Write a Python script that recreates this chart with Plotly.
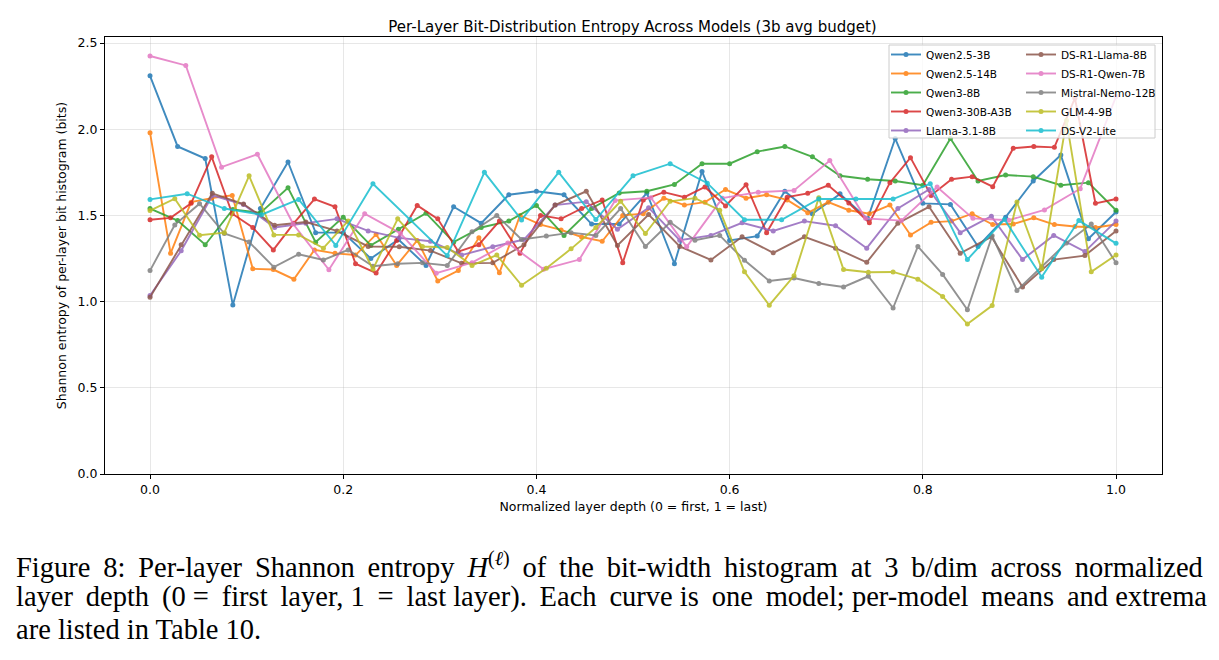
import numpy as np
import plotly.graph_objects as go

# ---------------- data ----------------
models = ["Qwen2.5-3B", "Qwen2.5-14B", "Qwen3-8B", "Qwen3-30B-A3B", "Llama-3.1-8B",
          "DS-R1-Llama-8B", "DS-R1-Qwen-7B", "Mistral-Nemo-12B", "GLM-4-9B", "DS-V2-Lite"]

colors = ["#1f77b4", "#ff7f0e", "#2ca02c", "#d62728", "#9467bd",
          "#8c564b", "#e377c2", "#7f7f7f", "#bcbd22", "#17becf"]

qwen25_3b = [2.31, 1.90, 1.83, 0.98, 1.54, 1.81, 1.40, 1.40, 1.25, 1.36,
             1.21, 1.55, 1.455, 1.62, 1.64, 1.62, 1.45, 1.45, 1.63, 1.22,
             1.755, 1.355, 1.38, 1.64, 1.51, 1.625, 1.48, 1.946, 1.57, 1.564,
             1.32, 1.49, 1.70, 1.85, 1.365, 1.52]

qwen25_14b = [1.98, 1.28, 1.577, 1.60, 1.616, 1.19, 1.186, 1.13, 1.30, 1.28,
              1.27, 1.39, 1.21, 1.355, 1.12, 1.18, 1.37, 1.167, 1.50, 1.447,
              1.416, 1.375, 1.35, 1.50, 1.51, 1.60, 1.56, 1.577, 1.65, 1.60,
              1.62, 1.59, 1.515, 1.577, 1.53, 1.51, 1.56, 1.386, 1.46, 1.467,
              1.51, 1.447, 1.45, 1.486, 1.447, 1.436, 1.43, 1.447]

qwen3_8b = [1.54, 1.47, 1.33, 1.535, 1.515, 1.66, 1.345, 1.49, 1.326, 1.42,
            1.513, 1.345, 1.43, 1.467, 1.558, 1.384, 1.54, 1.63, 1.64, 1.68,
            1.80, 1.80, 1.87, 1.90, 1.84, 1.73, 1.71, 1.70, 1.675, 1.946,
            1.70, 1.734, 1.725, 1.675, 1.69, 1.53]

qwen3_30b = [1.475, 1.486, 1.57, 1.84, 1.51, 1.43, 1.30, 1.455, 1.595, 1.55,
             1.22, 1.166, 1.355, 1.558, 1.48, 1.29, 1.33, 1.467, 1.28, 1.50,
             1.48, 1.54, 1.59, 1.225, 1.59, 1.635, 1.606, 1.665, 1.555, 1.678,
             1.40, 1.606, 1.628, 1.675, 1.572, 1.457, 1.69, 1.835, 1.616, 1.71,
             1.725, 1.667, 1.89, 1.90, 1.895, 2.18, 1.57, 1.595]

llama31_8b = [1.035, 1.295, 1.616, 1.563, 1.43, 1.455, 1.48, 1.41, 1.37, 1.35,
              1.27, 1.318, 1.36, 1.56, 1.58, 1.42, 1.545, 1.356, 1.384, 1.457,
              1.41, 1.467, 1.44, 1.31, 1.54, 1.65, 1.40, 1.495, 1.244, 1.384,
              1.29, 1.467]

ds_r1_llama_8b = [1.025, 1.33, 1.628, 1.566, 1.443, 1.462, 1.41, 1.32, 1.318, 1.296,
                  1.222, 1.225, 1.33, 1.56, 1.64, 1.326, 1.505, 1.32, 1.242, 1.376,
                  1.283, 1.376, 1.31, 1.228, 1.455, 1.55, 1.28, 1.376, 1.085, 1.244,
                  1.267, 1.41]

ds_r1_qwen_7b = [2.425, 2.37, 1.78, 1.855, 1.45, 1.185, 1.51, 1.396, 1.165, 1.226,
                 1.34, 1.188, 1.244, 1.587, 1.603, 1.318, 1.60, 1.635, 1.645, 1.818,
                 1.483, 1.47, 1.665, 1.483, 1.472, 1.532, 1.655, 2.19]

mistral_nemo_12b = [1.18, 1.445, 1.568, 1.395, 1.346, 1.20, 1.275, 1.242, 1.30, 1.205,
                    1.22, 1.225, 1.21, 1.405, 1.50, 1.36, 1.38, 1.40, 1.384, 1.54,
                    1.32, 1.46, 1.356, 1.384, 1.24, 1.12, 1.137, 1.105, 1.085, 1.147,
                    0.963, 1.32, 1.158, 0.953, 1.382, 1.065, 1.202, 1.34, 1.45, 1.225]

glm4_9b = [1.528, 1.597, 1.385, 1.40, 1.73, 1.387, 1.387, 1.31, 1.468, 1.188,
           1.48, 1.32, 1.314, 1.21, 1.27, 1.095, 1.193, 1.306, 1.43, 1.582,
           1.395, 1.582, 1.60, 1.53, 1.173, 0.979, 1.15, 1.603, 1.186, 1.17,
           1.172, 1.13, 1.03, 0.87, 0.977, 1.578, 1.19, 2.05, 1.173, 1.27]

ds_v2_lite = [1.593, 1.626, 1.54, 1.504, 1.593, 1.326, 1.684, 1.477, 1.267, 1.75,
              1.474, 1.75, 1.476, 1.73, 1.80, 1.687, 1.475, 1.475, 1.595, 1.595,
              1.595, 1.684, 1.244, 1.477, 1.142, 1.47, 1.338]

series = [qwen25_3b, qwen25_14b, qwen3_8b, qwen3_30b, llama31_8b,
          ds_r1_llama_8b, ds_r1_qwen_7b, mistral_nemo_12b, glm4_9b, ds_v2_lite]

x_ticks = [0.0, 0.2, 0.4, 0.6, 0.8, 1.0]
y_ticks = [0.0, 0.5, 1.0, 1.5, 2.0, 2.5]

title_text = "Per-Layer Bit-Distribution Entropy Across Models (3b avg budget)"
x_label = "Normalized layer depth (0 = first, 1 = last)"
y_label = "Shannon entropy of per-layer bit histogram (bits)"
caption_lines = [
    "Figure 8: Per-layer Shannon entropy <i>H</i><sup>(<i>ℓ</i>)</sup> of the bit-width histogram at 3 b/dim across normalized",
    "layer depth (0 = first layer, 1 = last layer). Each curve is one model; per-model means and extrema",
    "are listed in Table 10.",
]

# ---------------- layout geometry ----------------
W, H = 1219, 660
L, R, T, B = 105, 1162, 37, 474   # plot area in pixels


def px_x(px):
    return (px - L) / (R - L)


def px_y(py):
    return (B - py) / (B - T)


def justify(text, every):
    """Widen word gaps with thin spaces to mimic the justified caption."""
    words = text.split(" ")
    out = words[0]
    for j, w in enumerate(words[1:]):
        out += (" \u2009" if (every and j % every != every - 1) or every == 1 else " ") + w
    return out


fig = go.Figure()

for i, (name, vals) in enumerate(zip(models, series)):
    n = len(vals)
    depth = np.arange(n) / (n - 1)
    fig.add_trace(go.Scatter(
        x=depth, y=vals, mode="lines+markers", name=name,
        line=dict(color=colors[i], width=1.9),
        marker=dict(color=colors[i], size=5),
        opacity=0.85,
        legend="legend" if i < 5 else "legend2",
    ))

axis_common = dict(
    showline=True, linecolor="black", linewidth=1, mirror=True,
    ticks="outside", ticklen=4, tickcolor="black", tickwidth=1,
    showgrid=True, gridcolor="rgba(176,176,176,0.3)", gridwidth=1,
    zeroline=False, tickformat=".1f",
    tickfont=dict(family="DejaVu Sans", size=12.5, color="black"),
)

fig.update_layout(
    width=W, height=H,
    margin=dict(l=L, r=W - R, t=T, b=H - B),
    paper_bgcolor="white", plot_bgcolor="white",
    font=dict(family="DejaVu Sans", color="black"),
    title=dict(text=title_text, x=(375 + 890) / 2 / W, xanchor="center",
               y=1 - 27 / H, yanchor="middle", yref="container",
               font=dict(family="DejaVu Sans", size=15, color="black")),
    xaxis=dict(range=[-0.0466, 1.0476], tickvals=x_ticks,
               title=dict(text=x_label, standoff=6,
                          font=dict(family="DejaVu Sans", size=12.5, color="black")),
               **axis_common),
    yaxis=dict(range=[0, 2.535], tickvals=y_ticks,
               title=dict(text=y_label, standoff=8,
                          font=dict(family="DejaVu Sans", size=12.5, color="black")),
               **axis_common),
    legend=dict(x=px_x(886), y=px_y(40), xanchor="left", yanchor="top",
                bgcolor="rgba(0,0,0,0)", borderwidth=0,
                font=dict(family="DejaVu Sans", size=10.5, color="black"),
                tracegroupgap=0),
    legend2=dict(x=px_x(1021), y=px_y(40), xanchor="left", yanchor="top",
                 bgcolor="rgba(0,0,0,0)", borderwidth=0,
                 font=dict(family="DejaVu Sans", size=10.5, color="black"),
                 tracegroupgap=0),
    showlegend=True,
)

# legend frame (semi-transparent, above the lines like matplotlib's legend box)
fig.add_shape(type="rect", xref="paper", yref="paper",
              x0=px_x(889), x1=px_x(1155), y0=px_y(138), y1=px_y(45),
              line=dict(color="#cccccc", width=1),
              fillcolor="rgba(255,255,255,0.8)", layer="above")

# caption (lines 1 and 2 justified like the original)
caption_render = [justify(caption_lines[0], 1), justify(caption_lines[1], 3), caption_lines[2]]
for k, line in enumerate(caption_render):
    fig.add_annotation(text=line, xref="paper", yref="paper",
                       x=px_x(14), y=px_y(565 + 32 * k),
                       xanchor="left", yanchor="middle", showarrow=False,
                       font=dict(family="Liberation Serif", size=28.5, color="black"))

fig.write_html("out.html")
